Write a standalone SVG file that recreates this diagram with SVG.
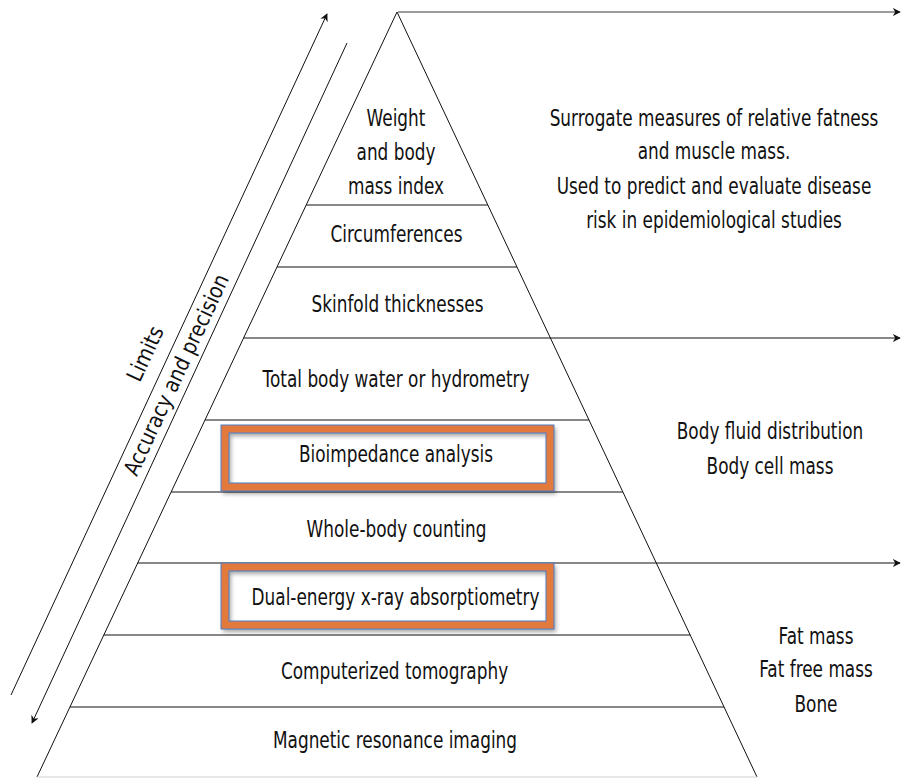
<svg xmlns="http://www.w3.org/2000/svg" width="902" height="778" viewBox="0 0 902 778">
  <style>
    .lbl { font-family: "DejaVu Sans", Verdana, sans-serif; font-size: 23px; fill: #111; text-anchor: middle; }
    .rot { font-family: "DejaVu Sans", Verdana, sans-serif; font-size: 22px; fill: #111; text-anchor: middle; }
    .edge { stroke: #111; stroke-width: 1; fill: none; }
    .tier { stroke: #111; stroke-width: 1; fill: none; }
    .base { stroke: #cfcfcf; stroke-width: 1.2; fill: none; }
    .arrow { stroke: #111; stroke-width: 1; fill: none; marker-end: url(#head); }
    .arrow-top { stroke: #7a7a7a; stroke-width: 1.6; fill: none; marker-end: url(#head); }
    .frame { fill: none; stroke: #E27A3C; stroke-width: 8; }
    .frame-edge { fill: none; stroke: #4F7EC9; stroke-width: 1; }
  </style>
  <defs>
    <marker id="head" viewBox="0 0 10 10" refX="9" refY="5" markerWidth="8" markerHeight="8" markerUnits="userSpaceOnUse" orient="auto">
      <path d="M0,0 L10,5 L0,10 L3,5 Z" fill="#111"/>
    </marker>
    <filter id="shadow" x="-10%" y="-20%" width="125%" height="150%">
      <feDropShadow dx="2" dy="3" stdDeviation="2" flood-color="#000" flood-opacity="0.35"/>
    </filter>
  </defs>

  <rect width="902" height="778" fill="#fff"/>

  <!-- pyramid outline and tier separators -->
  <g id="pyramid">
    <line class="edge" x1="397" y1="12" x2="37" y2="777"/>
    <line class="edge" x1="397" y1="12" x2="757" y2="777"/>
    <line class="base" x1="37" y1="777" x2="757" y2="777"/>
    <line class="tier" x1="306.2" y1="205" x2="487.8" y2="205"/>
    <line class="tier" x1="277" y1="267" x2="517" y2="267"/>
    <line class="tier" x1="205" y1="420" x2="589" y2="420"/>
    <line class="tier" x1="171.1" y1="492" x2="622.9" y2="492"/>
    <line class="tier" x1="103.8" y1="635" x2="690.2" y2="635"/>
    <line class="tier" x1="69.9" y1="707" x2="724.1" y2="707"/>
  </g>

  <!-- arrows: category dividers to the right, trend arrows to the left -->
  <g id="connectors">
    <line class="arrow-top" x1="398" y1="12" x2="900" y2="12"/>
    <line class="arrow" x1="243.6" y1="338" x2="900" y2="338"/>
    <line class="arrow" x1="137.7" y1="563" x2="900" y2="563"/>
    <line class="arrow" x1="11" y1="695" x2="327" y2="14"/>
    <line class="arrow" x1="347" y1="43" x2="32" y2="723"/>
  </g>

  <!-- highlighted tiers -->
  <g id="highlight-bia">
    <rect class="frame" x="225" y="429" width="325" height="58" filter="url(#shadow)"/>
    <rect class="frame-edge" x="221" y="425" width="333" height="66"/>
    <rect class="frame-edge" x="229" y="433" width="317" height="50"/>
  </g>
  <g id="highlight-dxa">
    <rect class="frame" x="225" y="567" width="325" height="58" filter="url(#shadow)"/>
    <rect class="frame-edge" x="221" y="563" width="333" height="66"/>
    <rect class="frame-edge" x="229" y="571" width="317" height="50"/>
  </g>

  <!-- tier labels (narrowed horizontally around each column centre) -->
  <g id="tier-weight" transform="translate(396,0) scale(0.735,1)">
    <text class="lbl" x="0" y="126">Weight</text>
    <text class="lbl" x="0" y="160">and body</text>
    <text class="lbl" x="0" y="194">mass index</text>
  </g>
  <g id="tier-circumferences" transform="translate(396.5,0) scale(0.735,1)">
    <text class="lbl" x="0" y="242">Circumferences</text>
  </g>
  <g id="tier-skinfold" transform="translate(397.5,0) scale(0.735,1)">
    <text class="lbl" x="0" y="312">Skinfold thicknesses</text>
  </g>
  <g id="tier-tbw" transform="translate(396,0) scale(0.735,1)">
    <text class="lbl" x="0" y="387">Total body water or hydrometry</text>
  </g>
  <g id="tier-bia" transform="translate(396,0) scale(0.735,1)">
    <text class="lbl" x="0" y="462">Bioimpedance analysis</text>
  </g>
  <g id="tier-wbc" transform="translate(396.5,0) scale(0.735,1)">
    <text class="lbl" x="0" y="537">Whole-body counting</text>
  </g>
  <g id="tier-dxa" transform="translate(395.5,0) scale(0.735,1)">
    <text class="lbl" x="0" y="605">Dual-energy x-ray absorptiometry</text>
  </g>
  <g id="tier-ct" transform="translate(394.5,0) scale(0.735,1)">
    <text class="lbl" x="0" y="679">Computerized tomography</text>
  </g>
  <g id="tier-mri" transform="translate(395,0) scale(0.735,1)">
    <text class="lbl" x="0" y="748">Magnetic resonance imaging</text>
  </g>

  <!-- category descriptions -->
  <g id="desc-surrogate" transform="translate(714,0) scale(0.735,1)">
    <text class="lbl" x="0" y="126">Surrogate measures of relative fatness</text>
    <text class="lbl" x="0" y="159">and muscle mass.</text>
    <text class="lbl" x="0" y="194">Used to predict and evaluate disease</text>
    <text class="lbl" x="0" y="228">risk in epidemiological studies</text>
  </g>
  <g id="desc-fluid" transform="translate(770,0) scale(0.735,1)">
    <text class="lbl" x="0" y="439">Body fluid distribution</text>
    <text class="lbl" x="0" y="474">Body cell mass</text>
  </g>
  <g id="desc-composition" transform="translate(816,0) scale(0.735,1)">
    <text class="lbl" x="0" y="644">Fat mass</text>
    <text class="lbl" x="0" y="677">Fat free mass</text>
    <text class="lbl" x="0" y="712">Bone</text>
  </g>

  <!-- axis labels along the trend arrows -->
  <g id="label-limits" transform="translate(152,357) rotate(-65)">
    <text class="rot" x="0" y="0" transform="scale(0.88,1)">Limits</text>
  </g>
  <g id="label-accuracy" transform="translate(183,378) rotate(-65)">
    <text class="rot" x="0" y="0" transform="scale(0.86,1)">Accuracy and precision</text>
  </g>
</svg>
